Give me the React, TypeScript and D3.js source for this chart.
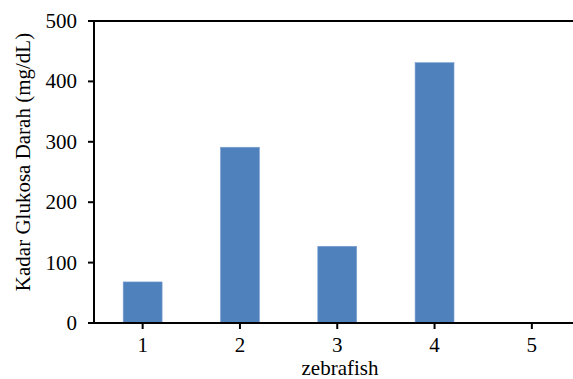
import React from "react";
import * as d3 from "d3";

const categories = ["1", "2", "3", "4", "5"];
const values = [68, 291, 127, 431, 0];
const yTicks = [0, 100, 200, 300, 400, 500];
const yLabel = "Kadar Glukosa Darah (mg/dL)";
const xLabel = "zebrafish";

const W = 573;
const H = 379;
const left = 94;
const right = 580.5;
const top = 21;
const bottom = 323;
const font = "'Liberation Serif', 'Times New Roman', serif";
const fs = 21;

export default function App() {
  const x = d3.scaleBand<string>().domain(categories).range([left, right]).paddingInner(0.6).paddingOuter(0.3);
  const xc = d3.scaleBand<string>().domain(categories).range([left, right]);
  const y = d3.scaleLinear().domain([0, 500]).range([bottom, top]);
  return (
    <div style={{ position: "absolute", left: 0, top: 0 }}>
      <svg width={W} height={H} style={{ display: "block" }}>
        <rect width={W} height={H} fill="#fff" />
        {values.map((v, i) => (
          <rect
            key={i}
            x={x(categories[i])}
            y={y(v)}
            width={x.bandwidth()}
            height={bottom - y(v)}
            fill="#4F81BD"
            stroke="#7aa0d0"
            strokeWidth={0.6}
          />
        ))}
        <line x1={left} x2={right} y1={top} y2={top} stroke="#000" strokeWidth={2} />
        <line x1={left} x2={left} y1={top - 1} y2={bottom + 1} stroke="#000" strokeWidth={2} />
        <line x1={left - 1} x2={right} y1={bottom} y2={bottom} stroke="#000" strokeWidth={2} />
        {yTicks.map((t) => (
          <g key={t}>
            <line x1={left - 6} x2={left} y1={y(t)} y2={y(t)} stroke="#000" strokeWidth={2} />
            <text x={77} y={y(t)} dy="0.33em" textAnchor="end" fontFamily={font} fontSize={fs} fill="#000">
              {t}
            </text>
          </g>
        ))}
        {categories.map((c) => {
          const cx = (xc(c) as number) + xc.bandwidth() / 2;
          return (
            <g key={c}>
              <line x1={cx} x2={cx} y1={bottom} y2={bottom + 6} stroke="#000" strokeWidth={2} />
              <text x={cx} y={352} textAnchor="middle" fontFamily={font} fontSize={fs} fill="#000">
                {c}
              </text>
            </g>
          );
        })}
        <text x={340} y={375} textAnchor="middle" fontFamily={font} fontSize={fs} fill="#000">
          {xLabel}
        </text>
        <text
          transform={`translate(30, 162) rotate(-90)`}
          textAnchor="middle"
          fontFamily={font}
          fontSize={fs}
          fill="#000"
        >
          {yLabel}
        </text>
      </svg>
    </div>
  );
}
